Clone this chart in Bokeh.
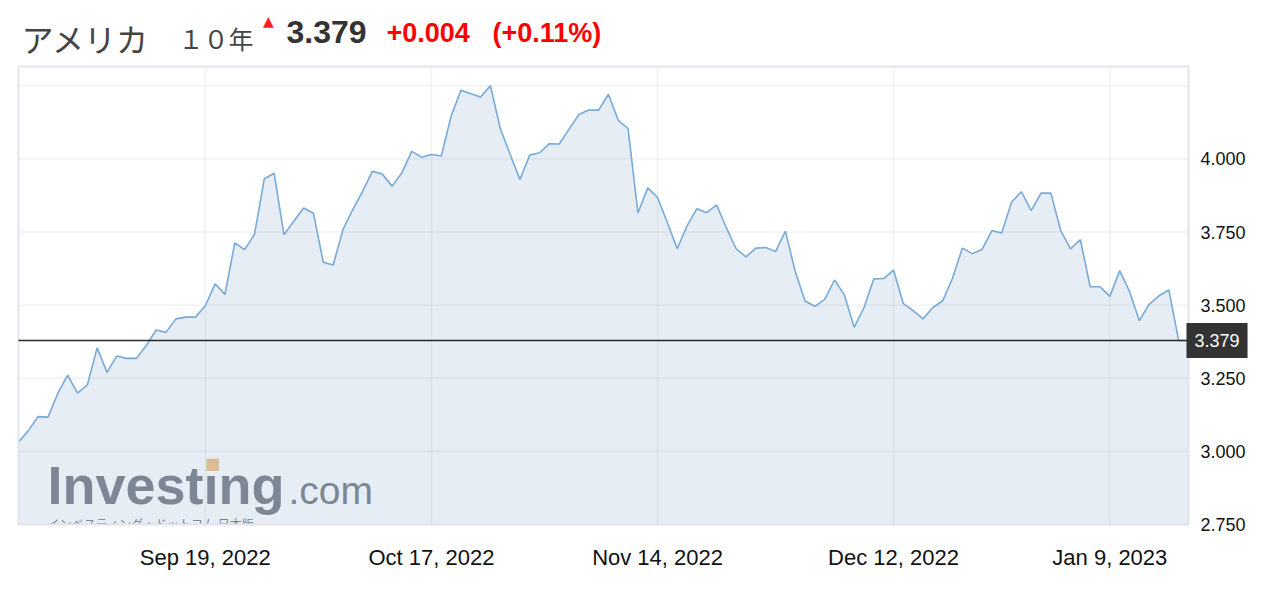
from bokeh.plotting import figure
from bokeh.models import Range1d, FixedTicker, Label, PrintfTickFormatter, ColumnDataSource
from bokeh.embed import file_html
from bokeh.resources import INLINE

# ---- data (US 10Y yield, daily closes) ----
yields = [
    3.031, 3.071, 3.119, 3.117, 3.199, 3.261, 3.199, 3.227, 3.354, 3.270,
    3.326, 3.318, 3.318, 3.362, 3.415, 3.407, 3.453, 3.459, 3.459, 3.498,
    3.573, 3.537, 3.713, 3.690, 3.742, 3.932, 3.951, 3.741, 3.787, 3.832,
    3.814, 3.647, 3.637, 3.758, 3.827, 3.889, 3.958, 3.948, 3.907, 3.953,
    4.026, 4.006, 4.015, 4.010, 4.146, 4.235, 4.223, 4.212, 4.250, 4.104,
    4.016, 3.930, 4.013, 4.021, 4.052, 4.051, 4.102, 4.152, 4.167, 4.167,
    4.221, 4.132, 4.104, 3.815, 3.901, 3.868, 3.782, 3.693, 3.771, 3.830,
    3.816, 3.843, 3.764, 3.692, 3.665, 3.695, 3.697, 3.683, 3.753, 3.615,
    3.514, 3.496, 3.520, 3.586, 3.535, 3.424, 3.492, 3.590, 3.591, 3.620,
    3.505, 3.481, 3.453, 3.492, 3.515, 3.592, 3.695, 3.676, 3.690, 3.755,
    3.747, 3.852, 3.888, 3.823, 3.883, 3.883, 3.755, 3.692, 3.724, 3.563,
    3.563, 3.530, 3.618, 3.547, 3.447, 3.503, 3.532, 3.552, 3.379, 3.379,
]
date_tick_index = [19, 42, 65, 89, 111]
date_tick_labels = ["Sep 19, 2022", "Oct 17, 2022", "Nov 14, 2022", "Dec 12, 2022", "Jan 9, 2023"]
y_ticks = [2.75, 3.0, 3.25, 3.5, 3.75, 4.0, 4.25]
last_price = 3.379
title_country = "アメリカ"
title_term = "１０年"
price_text = "3.379"
change_text = "+0.004"
change_pct_text = "(+0.11%)"

# ---- layout geometry (pixels) ----
n_last = len(yields) - 1
plot_w, plot_h = 1170, 458          # visible chart box (page x 18..1188, y 66..524)
frame_left, frame_w = 16, 1246
frame_bottom_page = 537
frame_h = frame_bottom_page
px_x = plot_w / n_last
y_lo, y_hi_plot = 2.75, 4.316
px_y = plot_h / (y_hi_plot - y_lo)
x_start = -2 / px_x
x_end = x_start + frame_w / px_x
y_start = y_lo - (frame_bottom_page - 524) / px_y
y_end = y_lo + 524 / px_y
yaxis_loc = x_start + (1244 - frame_left) / px_x


def sx(page_x):
    return page_x - frame_left


def sy(page_y):
    return frame_bottom_page - page_y


idx = list(range(len(yields)))
src = ColumnDataSource(dict(x=idx, y=yields, base=[y_lo] * len(yields)))

p = figure(frame_width=frame_w, frame_height=frame_h,
           x_range=Range1d(x_start, x_end), y_range=Range1d(y_start, y_end),
           y_axis_location="right", output_backend="svg", toolbar_location=None,
           min_border_left=frame_left, min_border_top=0, min_border_right=8, min_border_bottom=45,
           background_fill_color="white", border_fill_color="white")
p.outline_line_color = None
p.xgrid.visible = False
p.ygrid.visible = False

# watermark logo (under the area fill)
logo_color = "#7d828a"
p.add_layout(Label(x=sx(47), y=sy(484), x_units="screen", y_units="screen", text="Investıng",
                   text_font="Liberation Sans", text_font_style="bold", text_font_size="54px",
                   text_color=logo_color, text_baseline="middle", level="underlay"))
p.add_layout(Label(x=sx(212), y=sy(463), x_units="screen", y_units="screen", text="■",
                   text_font="DejaVu Sans", text_font_size="16px", text_align="center",
                   text_color="#f2c48a", text_baseline="middle", level="underlay"))
p.add_layout(Label(x=sx(288), y=sy(490), x_units="screen", y_units="screen", text=".com",
                   text_font="Liberation Sans", text_font_size="39px",
                   text_color=logo_color, text_baseline="middle", level="underlay"))
p.add_layout(Label(x=sx(47), y=sy(523), x_units="screen", y_units="screen",
                   text="インベスティング・ドットコム 日本版",
                   text_font="Noto Sans CJK JP", text_font_size="12px",
                   text_color=logo_color, text_baseline="middle", level="underlay"))

grid_kw = dict(line_color="#dde2ea", line_alpha=0.45, line_width=1.5)
p.segment(x0=[0] * len(y_ticks), y0=y_ticks, x1=[n_last] * len(y_ticks), y1=y_ticks, **grid_kw)
p.segment(x0=date_tick_index, y0=[y_lo] * len(date_tick_index),
          x1=date_tick_index, y1=[y_hi_plot] * len(date_tick_index), **grid_kw)

# area + line
p.varea(x="x", y1="base", y2="y", source=src, fill_color="#7a9bc2", fill_alpha=0.18)
p.line(x="x", y="y", source=src, line_color="#78aad8", line_width=1.6)

# white strip below the chart box (cuts the logo subtitle like the original)
p.quad(left=[x_start], right=[x_end], bottom=[y_start], top=[y_lo],
       fill_color="white", line_color=None)

# chart box outline
p.quad(left=[0], right=[n_last], bottom=[y_lo], top=[y_hi_plot],
       fill_color=None, line_color="#e3e4eb", line_width=2)

# x axis
xa = p.xaxis[0]
xa.ticker = FixedTicker(ticks=date_tick_index)
xa.major_label_overrides = {i: lab for i, lab in zip(date_tick_index, date_tick_labels)}
xa.axis_line_color = None
xa.major_tick_line_color = None
xa.minor_tick_line_color = None
xa.major_tick_out = 0
xa.major_label_standoff = 7
xa.major_label_text_font = "Liberation Sans"
xa.major_label_text_font_size = "22px"
xa.major_label_text_color = "#111111"

# y axis (labels sit right of the chart box)
ya = p.yaxis[0]
ya.ticker = FixedTicker(ticks=y_ticks)
ya.formatter = PrintfTickFormatter(format="%.3f")
ya.major_label_overrides = {4.25: ""}
ya.fixed_location = yaxis_loc
ya.axis_line_color = None
ya.major_tick_line_color = None
ya.minor_tick_line_color = None
ya.major_tick_out = 0
ya.major_label_standoff = -44
ya.major_label_text_font = "Liberation Sans"
ya.major_label_text_font_size = "18px"
ya.major_label_text_color = "#111111"

# last price line + box
p.segment(x0=[0], y0=[last_price], x1=[n_last], y1=[last_price], line_color="#2b2b2b", line_width=1.5)
p.add_layout(Label(x=n_last, y=last_price, x_offset=-2, text=price_text,
                   text_font="Liberation Sans", text_font_size="18px", text_color="white",
                   text_align="left", text_baseline="middle",
                   background_fill_color="#333333",
                   padding=dict(left=8, right=8, top=11, bottom=11)))

# header
p.add_layout(Label(x=sx(21), y=sy(37), x_units="screen", y_units="screen", text=title_country,
                   text_font="Noto Sans CJK JP", text_font_size="32px", text_color="#444444",
                   text_baseline="middle"))
p.add_layout(Label(x=sx(178), y=sy(37), x_units="screen", y_units="screen", text=title_term,
                   text_font="Noto Sans CJK JP", text_font_size="25px", text_color="#444444",
                   text_baseline="middle"))
p.add_layout(Label(x=sx(268), y=sy(20), x_units="screen", y_units="screen", text="▲",
                   text_font="DejaVu Sans", text_font_size="14px", text_color="#ff2020",
                   text_align="center", text_baseline="middle"))
p.add_layout(Label(x=sx(286), y=sy(31), x_units="screen", y_units="screen", text=price_text,
                   text_font="Liberation Sans", text_font_style="bold", text_font_size="32px",
                   text_color="#333333", text_baseline="middle"))
p.add_layout(Label(x=sx(386), y=sy(32), x_units="screen", y_units="screen", text=change_text,
                   text_font="Liberation Sans", text_font_style="bold", text_font_size="27px",
                   text_color="#ff0000", text_baseline="middle"))
p.add_layout(Label(x=sx(492), y=sy(32), x_units="screen", y_units="screen", text=change_pct_text,
                   text_font="Liberation Sans", text_font_style="bold", text_font_size="27px",
                   text_color="#ff0000", text_baseline="middle"))

open("out.html", "w").write(file_html(p, INLINE))
